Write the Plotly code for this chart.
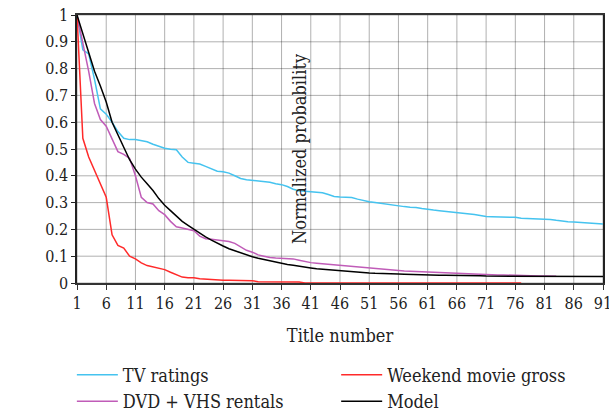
import plotly.graph_objects as go

# Title numbers (rank) on the x axis
titles = list(range(1, 92))

tv_ratings = [
    1.0, 0.87, 0.855, 0.76, 0.65, 0.63, 0.6, 0.565, 0.54, 0.535,
    0.535, 0.532, 0.527, 0.518, 0.511, 0.503, 0.499, 0.497, 0.47, 0.45,
    0.447, 0.444, 0.435, 0.425, 0.417, 0.415, 0.41, 0.4, 0.39, 0.385,
    0.383, 0.381, 0.38, 0.376, 0.37, 0.367, 0.36, 0.35, 0.344, 0.342,
    0.34, 0.339, 0.337, 0.33, 0.323, 0.321, 0.32, 0.319, 0.313, 0.307,
    0.303, 0.3, 0.297, 0.294, 0.29, 0.286, 0.285, 0.283, 0.282, 0.278,
    0.274, 0.272, 0.27, 0.268, 0.265, 0.263, 0.261, 0.259, 0.256, 0.252,
    0.248, 0.247, 0.247, 0.247, 0.247, 0.245, 0.242, 0.241, 0.24, 0.239,
    0.239, 0.237, 0.234, 0.231, 0.229, 0.228, 0.226, 0.224, 0.222, 0.221,
    0.22,
]

dvd_vhs_rentals = [
    1.0, 0.9, 0.79, 0.67, 0.61, 0.585, 0.54, 0.49, 0.48, 0.465,
    0.4, 0.32, 0.3, 0.295, 0.27, 0.255, 0.23, 0.21, 0.205, 0.2,
    0.195, 0.175, 0.165, 0.163, 0.16, 0.158, 0.155, 0.148, 0.135, 0.122,
    0.115, 0.105, 0.1, 0.095, 0.093, 0.092, 0.091, 0.09, 0.085, 0.08,
    0.076, 0.074, 0.072, 0.07, 0.068, 0.065, 0.063, 0.061, 0.059, 0.057,
    0.055, 0.053, 0.051, 0.05, 0.048, 0.046, 0.045, 0.044, 0.043, 0.042,
    0.041, 0.039, 0.038, 0.037, 0.036, 0.035, 0.035, 0.034, 0.033, 0.032,
    0.031, 0.031, 0.03, 0.03, 0.029, 0.028, 0.028, 0.027, 0.027, 0.026,
    0.026, 0.026, 0.025,
]

weekend_movie_gross = [
    1.0, 0.54, 0.47, 0.42, 0.37, 0.32, 0.18, 0.14, 0.13, 0.1,
    0.09, 0.075, 0.065, 0.06, 0.055, 0.05, 0.04, 0.03, 0.022, 0.02,
    0.02, 0.016, 0.014, 0.012, 0.011, 0.01, 0.01, 0.01, 0.009, 0.009,
    0.008, 0.005, 0.005, 0.005, 0.005, 0.004, 0.004, 0.004, 0.004, 0.0,
    0.0, 0.0, 0.0, 0.0, 0.0, 0.0, 0.0, 0.0, 0.0, 0.0,
    0.0, 0.0, 0.0, 0.0, 0.0, 0.0, 0.0, 0.0, 0.0, 0.0,
    0.0, 0.0, 0.0, 0.0, 0.0, 0.0, 0.0, 0.0, 0.0, 0.0,
    0.0, 0.0, 0.0, 0.0, 0.0, 0.0, 0.0,
]

model = [
    1.0, 0.93, 0.86, 0.79, 0.735, 0.675, 0.6, 0.555, 0.505, 0.46,
    0.425, 0.395, 0.37, 0.345, 0.315, 0.29, 0.27, 0.25, 0.23, 0.215,
    0.2, 0.185, 0.172, 0.16, 0.148, 0.138, 0.128, 0.12, 0.112, 0.105,
    0.098, 0.092, 0.087, 0.082, 0.077, 0.073, 0.069, 0.066, 0.062, 0.059,
    0.056, 0.053, 0.051, 0.049, 0.047, 0.046, 0.044, 0.042, 0.04, 0.038,
    0.037, 0.036, 0.036, 0.035, 0.035, 0.034, 0.033, 0.032, 0.031, 0.03,
    0.03, 0.03, 0.029, 0.029, 0.029, 0.028, 0.028, 0.028, 0.027, 0.027,
    0.026, 0.026, 0.026, 0.026, 0.026, 0.025, 0.025, 0.025, 0.025, 0.025,
    0.025, 0.025, 0.025, 0.024, 0.024, 0.024, 0.024, 0.024, 0.024, 0.024,
    0.024,
]

x_ticks = list(range(1, 92, 5))
y_ticks = [round(i * 0.1, 1) for i in range(11)]
y_labels = ["0"] + [f"{v:g}" for v in y_ticks[1:]]

FONT = "DejaVu Serif Condensed, DejaVu Serif"
TEXT = "#222222"
GRID = "#000000"

fig = go.Figure()
# Left legend column: TV ratings, DVD + VHS rentals; right column: Weekend, Model
fig.add_trace(go.Scatter(x=titles[:len(tv_ratings)], y=tv_ratings, mode="lines",
                         name="TV ratings", legend="legend",
                         line=dict(color="#45c3ef", width=1.5)))
fig.add_trace(go.Scatter(x=titles[:len(dvd_vhs_rentals)], y=dvd_vhs_rentals, mode="lines",
                         name="DVD + VHS rentals", legend="legend",
                         line=dict(color="#c05cb8", width=1.5)))
fig.add_trace(go.Scatter(x=titles[:len(weekend_movie_gross)], y=weekend_movie_gross,
                         mode="lines", name="Weekend movie gross", legend="legend2",
                         line=dict(color="#ff2a2a", width=1.5)))
fig.add_trace(go.Scatter(x=titles[:len(model)], y=model, mode="lines",
                         name="Model", legend="legend2",
                         line=dict(color="#000000", width=1.5)))

# Grid lines at every tick, between the plot background and the curves
grid_shapes = []
for xv in x_ticks:
    grid_shapes.append(dict(type="line", xref="x", yref="y", x0=xv, x1=xv, y0=0, y1=1,
                            layer="between", line=dict(color=GRID, width=1)))
for yv in y_ticks:
    grid_shapes.append(dict(type="line", xref="x", yref="y", x0=1, x1=91, y0=yv, y1=yv,
                            layer="between", line=dict(color=GRID, width=1)))

legend_style = dict(
    orientation="v", xanchor="left", yanchor="top",
    xref="container", yref="container", y=0.145,
    itemwidth=41, tracegroupgap=0,
    font=dict(family=FONT, size=18, color=TEXT),
    bgcolor="rgba(0,0,0,0)",
)

fig.update_layout(
    template="simple_white",
    width=609, height=417,
    margin=dict(l=77, r=6, t=15, b=134, autoexpand=False),
    paper_bgcolor="white", plot_bgcolor="rgba(0,0,0,0)",
    font=dict(family=FONT, size=16, color=TEXT),
    shapes=grid_shapes,
    showlegend=True,
    legend=dict(x=0.118, **legend_style),
    legend2=dict(x=0.552, **legend_style),
)
fig.update_xaxes(
    range=[1, 91], tickmode="array", tickvals=x_ticks,
    ticktext=[str(v) for v in x_ticks],
    showgrid=False, ticklabeloverflow="allow", automargin=False,
    showline=True, linecolor="#333333", linewidth=1.5, mirror=True,
    ticks="outside", ticklen=5, tickcolor="#333333",
    zeroline=False,
    title_text="Title number", title_standoff=17,
    title_font=dict(family=FONT, size=18, color=TEXT),
)
fig.update_yaxes(
    range=[0, 1], tickmode="array", tickvals=y_ticks, ticktext=y_labels,
    showgrid=False, automargin=False,
    showline=True, linecolor="#222222", linewidth=1.5, mirror=True,
    ticks="outside", ticklen=4, tickcolor="#222222",
    zeroline=False,
    title_text="Normalized probability", title_standoff=10,
    title_font=dict(family=FONT, size=18, color=TEXT),
)

fig.write_html("out.html")
